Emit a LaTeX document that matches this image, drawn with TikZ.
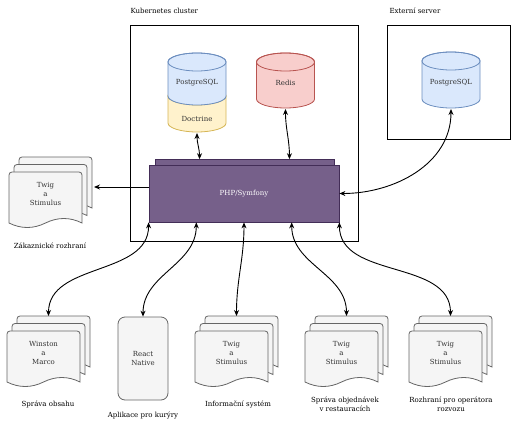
\documentclass[tikz,border=0pt]{standalone}
\usepackage{fontspec}
\setmainfont{DejaVu Serif}
\usepackage{xcolor}
\usepackage{tikz}
\usetikzlibrary{positioning,calc,arrows.meta}
\definecolor{PgBlue}{HTML}{DAE8FC}
\definecolor{PgBlueLine}{HTML}{6C8EBF}
\definecolor{DocYellow}{HTML}{FFF2CC}
\definecolor{DocYellowLine}{HTML}{D6B656}
\definecolor{RedisRed}{HTML}{F8CECC}
\definecolor{RedisRedLine}{HTML}{B85450}
\definecolor{PhpPurple}{HTML}{76608A}
\definecolor{PhpPurpleLine}{HTML}{432D57}
\definecolor{PageGray}{HTML}{F5F5F5}
\definecolor{PageLine}{HTML}{666666}
\definecolor{PageText}{HTML}{333333}
\newcommand{\diagfont}{\fontsize{7}{9.3}\selectfont}
\tikzset{
    cluster/.style={draw=black, line width=1pt, inner sep=0pt},
    phpbox/.style={draw=PhpPurpleLine, fill=PhpPurple, line width=0.8pt, inner sep=0pt, text=white, font=\diagfont},
    appbox/.style={draw=PageLine, fill=PageGray, line width=0.8pt, rounded corners=7pt, inner sep=0pt, align=center, text=PageText, font=\diagfont},
    pagestyle/.style={draw=PageLine, fill=PageGray, line width=0.8pt},
    doctext/.style={align=center, text=PageText, font=\diagfont},
    dbtext/.style={text=PageText, font=\diagfont},
    caption/.style={align=center, font=\diagfont},
    link/.style={-{Stealth[length=6pt,width=5pt]}, line width=0.9pt},
    duplex/.style={{Stealth[length=6pt,width=5pt]}-{Stealth[length=6pt,width=5pt]}, line width=0.9pt}
}
% one page of a document stack, top left corner at (#1,#2)
\newcommand{\docpage}[2]{%
    \filldraw[pagestyle, shift={(#1,#2)}] (0,51) -- (0,3) .. controls (0,1.3) and (1.3,0) .. (3,0)
        -- (70,0) .. controls (71.7,0) and (73,1.3) .. (73,3) -- (73,51)
        .. controls (61,45) and (48.7,45) .. (36.5,51)
        .. controls (24.3,57) and (12.2,57) .. (0,51) -- cycle;}
% stack of three pages: name, x, y of front page, text
\newcommand{\docstack}[4]{%
    \foreach \k in {2,1,0} {\docpage{#2+5*\k}{#3-7.5*\k}}
    \node[doctext] (#1) at (#2+36.5,#3+22) {#4};
    \coordinate (#1-top) at (#2+41.5,#3-15);}
% cylinder: centre x, top y, bottom y, fill, line
\newcommand{\dbcyl}[5]{%
    \filldraw[fill=#4, draw=#5, line width=0.8pt] (#1-29,#2) -- (#1-29,#3)
        arc[start angle=180, end angle=0, x radius=29, y radius=9] -- (#1+29,#2)
        arc[start angle=0, end angle=-180, x radius=29, y radius=9] -- cycle;
    \draw[draw=#5, line width=0.8pt] (#1,#2) ellipse[x radius=29, y radius=9];}

\begin{document}
\begin{tikzpicture}[x=1pt, y=-1pt]
    \useasboundingbox (0,0) rectangle (512,426);

    % --- CLUSTERS ---
    \node[caption, anchor=west] (k8s-title) at (127,11) {Kubernetes cluster};
    \node[cluster, minimum width=228, minimum height=216] (k8s) at (244,133) {};
    \node[caption, anchor=west] (ext-title) at (386,11) {Externí server};
    \node[cluster, minimum width=123, minimum height=114] (ext) at (448.5,82) {};

    % --- DATABASES ---
    \dbcyl{197}{96}{123}{DocYellow}{DocYellowLine}
    \dbcyl{197}{62}{96}{PgBlue}{PgBlueLine}
    \dbcyl{285.5}{62}{99}{RedisRed}{RedisRedLine}
    \dbcyl{451}{61}{99}{PgBlue}{PgBlueLine}
    \node[dbtext] (pgk8s) at (197,83) {PostgreSQL};
    \node[dbtext] (doctrine) at (197,119) {Doctrine};
    \node[dbtext] (redis) at (285.5,83) {Redis};
    \node[dbtext] (pgext) at (451,83) {PostgreSQL};
    \coordinate (doctrine-bot) at (197,133);
    \coordinate (redis-bot) at (285.5,109);
    \coordinate (pgext-bot) at (451,109);

    % --- PHP/SYMFONY ---
    \node[phpbox, minimum width=179, minimum height=8, anchor=south] (phpback) at (244.5,168) {};
    \node[phpbox, minimum width=190, minimum height=57] (php) at (244,193.5) {PHP/Symfony};

    % --- FRONTENDS ---
    \docstack{zakaznik}{9}{172}{Twig\\a\\Stimulus}
    \coordinate (zakaznik-right) at (94,187);
    \docstack{sprava}{7}{331}{Winston\\a\\Marco}
    \node[appbox, minimum width=50, minimum height=83] (kuryr) at (143,358.5) {React\\Native};
    \coordinate (kuryr-top) at (kuryr.north);
    \docstack{infosys}{195}{331}{Twig\\a\\Stimulus}
    \docstack{restaurace}{305}{331}{Twig\\a\\Stimulus}
    \docstack{rozvoz}{409}{331}{Twig\\a\\Stimulus}

    % --- CAPTIONS ---
    \node[caption] (lbl-zakaznik) at (50,246) {Zákaznické rozhraní};
    \node[caption] (lbl-sprava) at (48,404) {Správa obsahu};
    \node[caption] (lbl-kuryr) at (143,415) {Aplikace pro kurýry};
    \node[caption] (lbl-infosys) at (238,404) {Informační systém};
    \node[caption] (lbl-restaurace) at (345,404) {Správa objednávek\\v restauracích};
    \node[caption] (lbl-rozvoz) at (451,404) {Rozhraní pro operátora\\rozvozu};

    % --- CONNECTORS ---
    \draw[duplex] (doctrine-bot) to[out=-90, in=90] ($(phpback.north west)!0.25!(phpback.north east)$);
    \draw[duplex] (redis-bot) to[out=-90, in=90] ($(phpback.north west)!0.75!(phpback.north east)$);
    \draw[duplex] (pgext-bot) to[out=-90, in=0] (php.east);
    \draw[link] ($(php.west)+(0,-6.5)$) -- (zakaznik-right);
    \foreach \f/\t in {0/sprava, 0.25/kuryr, 0.5/infosys, 0.75/restaurace, 1/rozvoz}
        \draw[duplex] ($(php.south west)!\f!(php.south east)$) to[out=-90, in=90] (\t-top);

\end{tikzpicture}
\end{document}
